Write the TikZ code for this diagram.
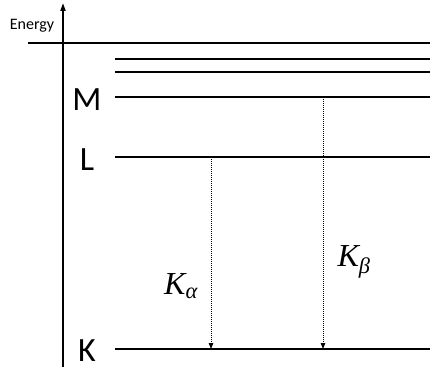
\documentclass[tikz,border=0pt]{standalone}
\usepackage{fontspec}
\setmainfont{Carlito}
\newfontfamily\symfont{Liberation Serif}
\usetikzlibrary{arrows.meta}

\begin{document}
\begin{tikzpicture}[
  x=1pt,y=-1pt,
  level/.style={line width=1.7pt},
  axis/.style={line width=1.8pt,-{Triangle[length=8pt,width=5pt]}},
  emission/.style={line width=1pt,dash pattern=on 1pt off 1pt,-{Triangle[length=6pt,width=4.5pt]}},
  shell/.style={font=\fontsize{34}{36}\selectfont,inner sep=0pt},
  transition/.style={font=\symfont\itshape\fontsize{32}{34}\selectfont,inner sep=0pt},
  axislabel/.style={font=\fontsize{16}{18}\selectfont,inner sep=0pt}
]
\path[use as bounding box] (0,0) rectangle (430,369);

% energy axis
\coordinate (origin) at (63,367);
\coordinate (top) at (63,3);
\draw[axis] (origin) -- (top);
\node[axislabel] (energy) at (32,26) {Energy};

% levels, from the continuum down to K
\coordinate (cont-l) at (28,43);  \coordinate (cont-r) at (430,43);
\coordinate (o-l) at (115,59);    \coordinate (o-r) at (430,59);
\coordinate (n-l) at (115,72);    \coordinate (n-r) at (430,72);
\coordinate (m-l) at (115,97);    \coordinate (m-r) at (430,97);
\coordinate (l-l) at (115,157);   \coordinate (l-r) at (430,157);
\coordinate (k-l) at (115,349);   \coordinate (k-r) at (430,349);
\foreach \lv in {cont,o,n,m,l,k}
  \draw[level] (\lv-l) -- (\lv-r);

\node[shell] (M) at (87,100) {M};
\node[shell] (L) at (87,160) {L};
\node[shell] (K) at (87,351) {K};

% transitions
\coordinate (ka-top) at (211,157); \coordinate (ka-bot) at (211,349);
\coordinate (kb-top) at (323,97);  \coordinate (kb-bot) at (323,349);
\draw[emission] (ka-top) -- (ka-bot);
\draw[emission] (kb-top) -- (kb-bot);
\node[transition] (Kalpha) at (181,286) {K\textsubscript{α}};
\node[transition] (Kbeta) at (354,262) {K\textsubscript{β}};
\end{tikzpicture}
\end{document}
